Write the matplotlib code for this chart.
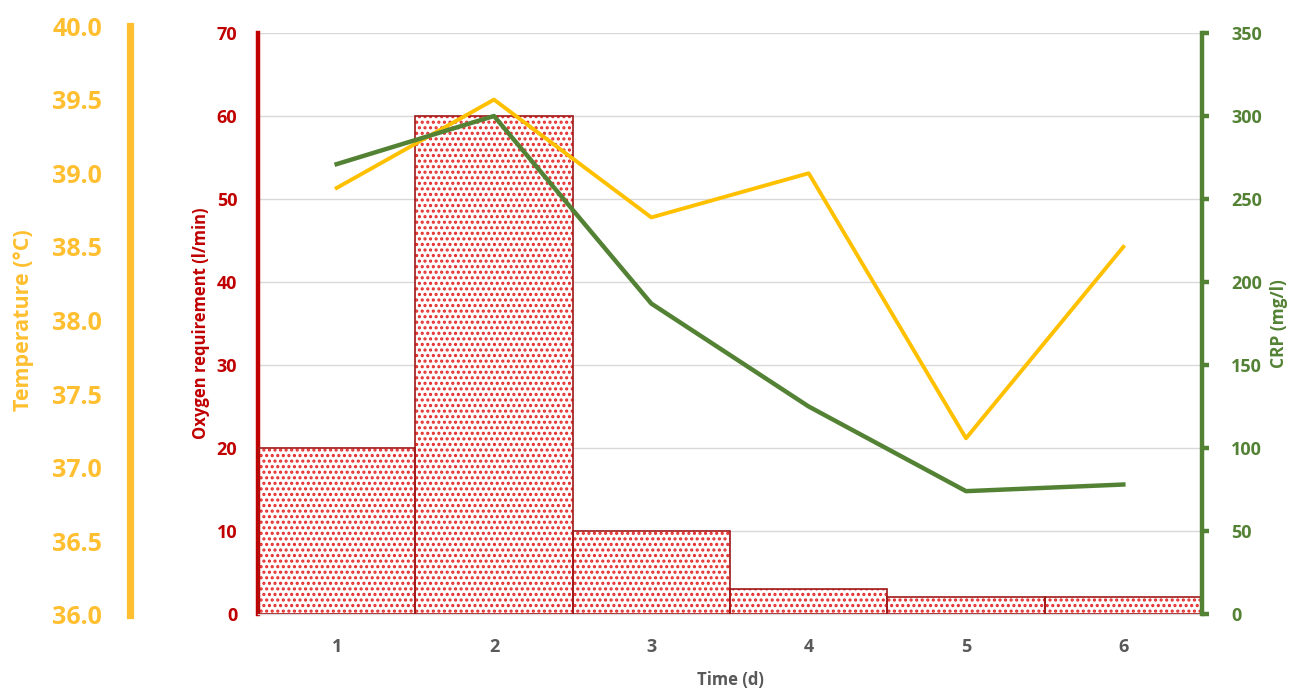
import matplotlib
matplotlib.use("Agg")
import matplotlib.pyplot as plt
import numpy as np

# Data
days = [1, 2, 3, 4, 5, 6]
oxygen = [20, 60, 10, 3, 2, 2]
temperature = [38.9, 39.5, 38.7, 39.0, 37.2, 38.5]
crp = [271, 300, 187, 125, 74, 78]
temp_ticks = [36.0, 36.5, 37.0, 37.5, 38.0, 38.5, 39.0, 39.5, 40.0]

RED = "#C00000"
YEL = "#FFC000"
GRN = "#548235"
GRAY = "#595959"
FONT = "Open Sans"

plt.rcParams['font.family'] = [FONT, 'DejaVu Sans']
plt.rcParams['font.weight'] = 'bold'
plt.rcParams['hatch.linewidth'] = 1.5

W, H = 1298, 689
fig = plt.figure(figsize=(W/100, H/100), dpi=100)

def fx(px):
    return px / W

def fy(py):
    return 1 - py / H

L, R = 258, 1202
T, B = 33, 614
ax = fig.add_axes([fx(L), fy(B), fx(R) - fx(L), fy(T) - fy(B)])

# bars
ax.bar(days, oxygen, width=1.0, facecolor="white", edgecolor="#e42a2a",
       hatch="...", linewidth=0, zorder=2)
ax.bar(days, oxygen, width=1.0, fill=False, edgecolor="#a01818",
       linewidth=1.2, zorder=3)
ax.set_xlim(0.5, 6.5)
ax.set_ylim(0, 70)
ax.set_yticks(range(0, 71, 10))
ax.yaxis.grid(True, color="#d9d9d9", linewidth=1)
ax.set_axisbelow(True)
for s in ["top", "right"]:
    ax.spines[s].set_visible(False)
ax.spines["left"].set_color(RED)
ax.spines["left"].set_linewidth(3.2)
ax.spines["bottom"].set_color("#d9d9d9")
ax.spines["bottom"].set_linewidth(1)
ax.tick_params(axis="y", length=0, pad=15, labelsize=13, labelcolor=RED)
ax.tick_params(axis="x", length=0, pad=17, labelsize=13, labelcolor=GRAY)
ax.set_xticks(days)
ax.set_ylabel("Oxygen requirement (l/min)", color=RED, fontsize=12,
              fontweight="bold", labelpad=5)
ax.set_xlabel("Time (d)", color=GRAY, fontsize=12, fontweight="bold", labelpad=11)

# temperature axis
TT, TB = 26, 615
axt = fig.add_axes([fx(L), fy(TB), fx(R) - fx(L), fy(TT) - fy(TB)])
axt.patch.set_visible(False)
axt.plot(days, temperature, color=YEL, linewidth=2.8, zorder=4)
axt.set_xlim(0.5, 6.5)
axt.set_ylim(36, 40)
axt.set_yticks(temp_ticks)
axt.set_yticklabels([f"{t:.1f}" for t in temp_ticks])
for s in ["top", "right", "bottom"]:
    axt.spines[s].set_visible(False)
axt.spines["left"].set_position(("outward", (L - 130) * 72 / 100))
axt.spines["left"].set_color("#FFBF30")
axt.spines["left"].set_linewidth(5.2)
axt.set_xticks([])
axt.tick_params(axis="y", length=0, pad=20, labelsize=18, labelcolor="#FFBF30")
axt.set_ylabel("Temperature (°C)", color="#FFBF30", fontsize=15.5,
               fontweight="bold", labelpad=13)

# CRP axis
axc = fig.add_axes([fx(L), fy(B), fx(R) - fx(L), fy(T) - fy(B)])
axc.patch.set_visible(False)
axc.plot(days, crp, color=GRN, linewidth=3.2, zorder=5)
axc.set_xlim(0.5, 6.5)
axc.set_ylim(0, 350)
axc.set_yticks(range(0, 351, 50))
axc.yaxis.tick_right()
axc.yaxis.set_label_position("right")
for s in ["top", "left", "bottom"]:
    axc.spines[s].set_visible(False)
axc.spines["right"].set_color(GRN)
axc.spines["right"].set_linewidth(3.2)
axc.set_xticks([])
axc.tick_params(axis="y", length=5, width=3.2, color=GRN, direction="out",
                pad=16, labelsize=13, labelcolor=GRN)
axc.set_ylabel("CRP (mg/l)", color=GRN, fontsize=12.5, fontweight="bold",
               labelpad=6)

fig.savefig("out.png", dpi=100)
